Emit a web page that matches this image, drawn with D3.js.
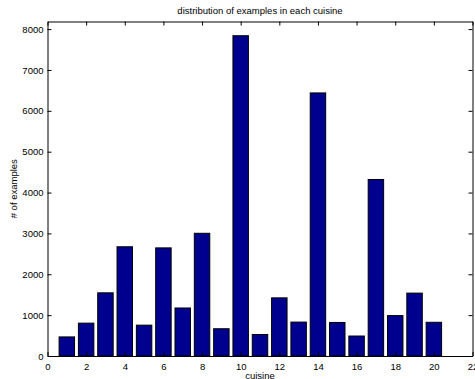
<!DOCTYPE html>
<html>
<head>
<meta charset="utf-8">
<script src="https://cdn.jsdelivr.net/npm/d3@7"></script>
<style>
  body { margin: 0; background: #fff; }
  svg text { font-family: "Liberation Sans", Arial, Helvetica, sans-serif; fill: #000; }
</style>
</head>
<body>
<svg id="chart" width="475" height="379"></svg>
<script>
// --- DATA ---
const cuisines = d3.range(1, 21);
const counts = [467, 804, 1546, 2673, 755, 2646, 1175, 3003, 667, 7838,
                526, 1423, 830, 6438, 821, 489, 4320, 989, 1539, 825];
const xTicks = d3.range(0, 23, 2);
const yTicks = d3.range(0, 8001, 1000);

// --- LAYOUT ---
const W = 475, H = 379;
const margin = { left: 47.5, right: 2.5, top: 21.5, bottom: 23 };
const TICK = 4;

const svg = d3.select("#chart");

const x = d3.scaleLinear().domain([0, 22]).range([margin.left, W - margin.right]);
const y = d3.scaleLinear().domain([0, 8186]).range([H - margin.bottom, margin.top]);

// bars
const barW = 0.8;
svg.append("g").selectAll("rect").data(cuisines).enter().append("rect")
  .attr("x", d => x(d - barW / 2))
  .attr("width", d => x(d + barW / 2) - x(d - barW / 2))
  .attr("y", (d, i) => y(counts[i]))
  .attr("height", (d, i) => y(0) - y(counts[i]))
  .attr("fill", "#00008f")
  .attr("stroke", "#000")
  .attr("stroke-width", 1);

// axes (ticks inside, box on)
const fmt = d3.format("d");
const axB = svg.append("g").attr("transform", `translate(0,${y.range()[0]})`)
  .call(d3.axisBottom(x).tickValues(xTicks).tickFormat(fmt).tickSizeInner(-TICK).tickSizeOuter(0).tickPadding(7));
const axT = svg.append("g").attr("transform", `translate(0,${y.range()[1]})`)
  .call(d3.axisTop(x).tickValues(xTicks).tickSizeInner(-TICK).tickSizeOuter(0).tickFormat(""));
const axL = svg.append("g").attr("transform", `translate(${x.range()[0]},0)`)
  .call(d3.axisLeft(y).tickValues(yTicks).tickFormat(fmt).tickSizeInner(-TICK).tickSizeOuter(0).tickPadding(4));
const axR = svg.append("g").attr("transform", `translate(${x.range()[1]},0)`)
  .call(d3.axisRight(y).tickValues(yTicks).tickSizeInner(-TICK).tickSizeOuter(0).tickFormat(""));

[axB, axT, axL, axR].forEach(a => {
  a.select(".domain").attr("stroke", "#000").attr("stroke-width", 1);
  a.selectAll(".tick line").attr("stroke", "#000");
  a.selectAll("text").attr("font-size", 9.5).attr("font-family", null).attr("fill", "#000");
});

// titles
svg.append("text")
  .attr("x", (x.range()[0] + x.range()[1]) / 2).attr("y", 14)
  .attr("text-anchor", "middle").attr("font-size", 9.5)
  .text("distribution of examples in each cuisine");

svg.append("text")
  .attr("x", (x.range()[0] + x.range()[1]) / 2).attr("y", 379)
  .attr("text-anchor", "middle").attr("font-size", 9.5)
  .text("cuisine");

svg.append("text")
  .attr("transform", `translate(17,${(y.range()[0] + y.range()[1]) / 2}) rotate(-90)`)
  .attr("text-anchor", "middle").attr("font-size", 9.5)
  .text("# of examples");
</script>
</body>
</html>
